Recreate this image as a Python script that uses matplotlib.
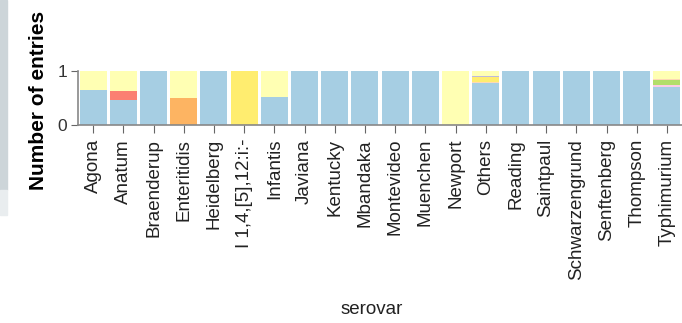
import numpy as np
import matplotlib.pyplot as plt
from matplotlib.patches import Rectangle

plt.rcParams['font.family'] = ['Liberation Sans', 'DejaVu Sans']

serovars = ['Agona', 'Anatum', 'Braenderup', 'Enteritidis', 'Heidelberg',
            'I 1,4,[5],12:i:-', 'Infantis', 'Javiana', 'Kentucky', 'Mbandaka',
            'Montevideo', 'Muenchen', 'Newport', 'Others', 'Reading',
            'Saintpaul', 'Schwarzengrund', 'Senftenberg', 'Thompson',
            'Typhimurium']

# proportion of entries per serovar, one list per stacked group (bottom to top)
grp_blue   = [0.65, 0.47, 1, 0.00, 1, 0, 0.52, 1, 1, 1, 1, 1, 0, 0.77, 1, 1, 1, 1, 1, 0.70]
grp_orange = [0.00, 0.00, 0, 0.50, 0, 0, 0.00, 0, 0, 0, 0, 0, 0, 0.00, 0, 0, 0, 0, 0, 0.00]
grp_red    = [0.00, 0.16, 0, 0.00, 0, 0, 0.00, 0, 0, 0, 0, 0, 0, 0.00, 0, 0, 0, 0, 0, 0.00]
grp_pink   = [0.00, 0.00, 0, 0.00, 0, 0, 0.00, 0, 0, 0, 0, 0, 0, 0.00, 0, 0, 0, 0, 0, 0.05]
grp_green  = [0.00, 0.00, 0, 0.00, 0, 0, 0.00, 0, 0, 0, 0, 0, 0, 0.00, 0, 0, 0, 0, 0, 0.08]
grp_peach  = [0.00, 0.00, 0, 0.00, 0, 0, 0.00, 0, 0, 0, 0, 0, 0, 0.03, 0, 0, 0, 0, 0, 0.03]
grp_yellow = [0.00, 0.00, 0, 0.00, 0, 1, 0.00, 0, 0, 0, 0, 0, 0, 0.08, 0, 0, 0, 0, 0, 0.00]
grp_purple = [0.00, 0.00, 0, 0.00, 0, 0, 0.00, 0, 0, 0, 0, 0, 0, 0.03, 0, 0, 0, 0, 0, 0.00]
grp_cream  = [0.35, 0.37, 0, 0.50, 0, 0, 0.48, 0, 0, 0, 0, 0, 1, 0.09, 0, 0, 0, 0, 0, 0.14]

groups = [grp_blue, grp_orange, grp_red, grp_pink, grp_green, grp_peach,
          grp_yellow, grp_purple, grp_cream]
colors = ['#a6cee3', '#fdb462', '#fb8072', '#fccde5', '#b3de69', '#fdd9b5',
          '#ffed6f', '#bebada', '#ffffb3']

fig = plt.figure(figsize=(6.82, 3.23), dpi=100)
fig.patches.append(Rectangle((0, 1 - 190 / 323), 7 / 682, 190 / 323,
                             transform=fig.transFigure, color='#cdd5d9', zorder=0))
fig.patches.append(Rectangle((0, 1 - 215 / 323), 7 / 682, 25 / 323,
                             transform=fig.transFigure, color='#e9edef', zorder=0))
ax = fig.add_axes([78 / 682, 1 - 125 / 323, 604 / 682, 54 / 323])

x = np.arange(len(serovars))
bottom = np.zeros(len(serovars))
for vals, c in zip(groups, colors):
    vals = np.array(vals, dtype=float)
    ax.bar(x, vals, width=0.9, bottom=bottom, color=c, linewidth=0)
    bottom += vals

ax.set_xlim(-0.5, len(serovars) - 0.5)
ax.set_ylim(0, 1)
ax.set_yticks([0, 1])
ax.set_yticklabels(['0', '1'], fontsize=12.5, color='#333333')
ax.set_xticks(x)
ax.set_xticklabels(serovars, rotation=90, fontsize=13.5, color='#222222')
ax.tick_params(axis='x', length=6, color='#666666', pad=4)
ax.tick_params(axis='y', length=5, color='#666666', pad=3)
for s in ['top', 'right']:
    ax.spines[s].set_visible(False)
for s in ['left', 'bottom']:
    ax.spines[s].set_color('#888888')
    ax.spines[s].set_linewidth(1.2)

fig.text(39 / 682, 1 - 100 / 323, 'Number of entries', fontsize=15,
         fontweight='bold', rotation=90, ha='center', va='center')
fig.text(372 / 682, 1 - 309 / 323, 'serovar', fontsize=13.5, ha='center',
         va='center', color='#222222')

fig.savefig('out.png', dpi=100)
